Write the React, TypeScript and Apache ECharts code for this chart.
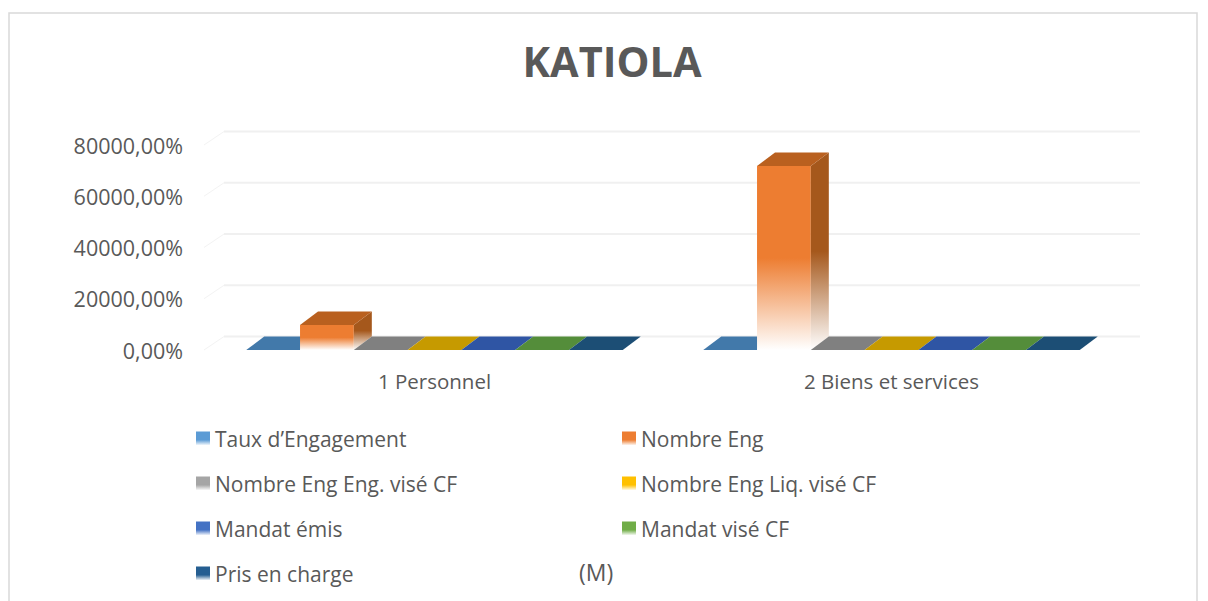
import React, { useEffect, useRef } from "react";
import * as echarts from "echarts";

const titleText = "KATIOLA";
const categories = ["1 Personnel", "2 Biens et services"];
const seriesNames = [
  "Taux d’Engagement",
  "Nombre Eng",
  "Nombre Eng Eng. visé CF",
  "Nombre Eng Liq. visé CF",
  "Mandat émis",
  "Mandat visé CF",
  "Pris en charge",
];
const tauxEngagement = [0, 0];
const nombreEng = [9800, 71800];
const nombreEngEngVise = [0, 0];
const nombreEngLiqVise = [0, 0];
const mandatEmis = [0, 0];
const mandatVise = [0, 0];
const prisEnCharge = [0, 0];
const seriesValues = [
  tauxEngagement,
  nombreEng,
  nombreEngEngVise,
  nombreEngLiqVise,
  mandatEmis,
  mandatVise,
  prisEnCharge,
];
const valueTicks = [0, 20000, 40000, 60000, 80000];
const unitNote = "(M)";

const legendColors = ["#5b9bd5", "#ed7d31", "#a5a5a5", "#ffc000", "#4472c4", "#70ad47", "#255e91"];
const topColors = ["#4279aa", "#b9601f", "#808080", "#c69a00", "#2f55a4", "#548d3a", "#1c4e75"];
const sideColors = ["#3a6a95", "#a5581c", "#6e6e6e", "#a88300", "#294a8f", "#487a32", "#174263"];

const FONT = '"Open Sans", sans-serif';
const TEXT = "#595959";
const DX = 18;
const DY = 13.5;
const BAR_FRACTION = 0.1177;

function fade(color: string, hold: number) {
  return new echarts.graphic.LinearGradient(0, 0, 0, 1, [
    { offset: 0, color },
    { offset: hold, color },
    { offset: 1, color: "#ffffff" },
  ]);
}

function wallItem(params: any, api: any) {
  const v = api.value(1);
  const band = api.size([1, 0])[0];
  const p = api.coord([0, v]);
  const left = p[0] - band / 2 - 2;
  const right = left + 2 * band + 2;
  return {
    type: "group",
    silent: true,
    children: [
      {
        type: "polyline",
        shape: { points: [[left + DX + 2, p[1] - DY], [right + DX + 2, p[1] - DY]] },
        style: { stroke: "#f0f0f0", lineWidth: 2, fill: "none" },
      },
      {
        type: "line",
        shape: { x1: left, y1: p[1], x2: left + DX + 2, y2: p[1] - DY },
        style: { stroke: "#f3f3f3", lineWidth: 1 },
      },
    ],
  };
}

function barItem(params: any, api: any) {
  const i = params.seriesIndex - 1;
  const band = api.size([1, 0])[0];
  const w = band * BAR_FRACTION;
  const base = api.coord([api.value(0), 0]);
  const top = api.coord([api.value(0), api.value(1)]);
  const x0 = base[0] + (i - 3.5) * w;
  const x1 = x0 + w;
  const yB = base[1];
  const yT = top[1];
  const children: any[] = [];
  if (yB - yT > 0.5) {
    children.push({
      type: "polygon",
      shape: { points: [[x0, yT], [x1, yT], [x1, yB], [x0, yB]] },
      style: { fill: fade(legendColors[i], 0.5) },
    });
    children.push({
      type: "polygon",
      shape: { points: [[x1, yT], [x1 + DX, yT - DY], [x1 + DX, yB - DY], [x1, yB]] },
      style: { fill: fade(sideColors[i], 0.5) },
    });
  }
  children.push({
    type: "polygon",
    shape: { points: [[x0, yT], [x1, yT], [x1 + DX, yT - DY], [x0 + DX, yT - DY]] },
    style: { fill: topColors[i] },
  });
  return { type: "group", children };
}

function legendBlock(names: string[], left: number) {
  return {
    show: true,
    orient: "vertical" as const,
    left,
    top: 428,
    height: 300,
    padding: 0,
    itemWidth: 14,
    itemHeight: 14,
    itemGap: 24,
    selectedMode: false,
    icon: "rect",
    textStyle: { fontFamily: FONT, fontSize: 21, color: TEXT, height: 20, lineHeight: 20 },
    data: names.map((name) => ({
      name,
      itemStyle: { color: fade(legendColors[seriesNames.indexOf(name)], 0.6) },
    })),
  };
}

export default function App() {
  const ref = useRef<HTMLDivElement>(null);
  useEffect(() => {
    document.body.style.margin = "0";
    const chart = echarts.init(ref.current!, undefined, { renderer: "svg" });
    chart.setOption({
      animation: false,
      backgroundColor: "#ffffff",
      title: {
        text: titleText,
        left: 607,
        top: 35,
        textAlign: "center",
        textStyle: { fontFamily: FONT, fontSize: 41.5, fontWeight: "bold", color: TEXT },
      },
      grid: { left: 206, top: 145, width: 914, height: 205 },
      xAxis: {
        type: "category",
        data: categories,
        axisLine: { show: false },
        axisTick: { show: false },
        axisLabel: { fontFamily: FONT, fontSize: 20.5, color: TEXT, margin: 20 },
      },
      yAxis: {
        type: "value",
        min: 0,
        max: 80000,
        interval: 20000,
        axisLine: { show: false },
        axisTick: { show: false },
        splitLine: { show: false },
        axisLabel: {
          fontFamily: FONT,
          fontSize: 21.5,
          color: TEXT,
          margin: 23,
          padding: [2, 0, 0, 0],
          formatter: (v: number) => `${v},00%`,
        },
      },
      legend: [
        legendBlock([seriesNames[0], seriesNames[2], seriesNames[4], seriesNames[6]], 196),
        legendBlock([seriesNames[1], seriesNames[3], seriesNames[5]], 622),
      ],
      graphic: [
        {
          type: "rect",
          z: -1,
          silent: true,
          shape: { x: 9, y: 13, width: 1188, height: 640 },
          style: { fill: "none", stroke: "#d9d9d9", lineWidth: 1.5 },
        },
        {
          type: "text",
          x: 579,
          y: 560,
          style: { text: unitNote, fontFamily: FONT, fontSize: 23, fill: TEXT },
        },
      ],
      series: [
        {
          type: "custom",
          name: "wall",
          renderItem: wallItem,
          clip: false,
          silent: true,
          encode: { x: 0, y: 1 },
          data: valueTicks.map((v) => [0, v]),
          z: 1,
        },
        ...seriesNames.map((name, s) => ({
          type: "custom" as const,
          name,
          renderItem: barItem,
          clip: false,
          encode: { x: 0, y: 1 },
          itemStyle: { color: legendColors[s] },
          data: seriesValues[s].map((v, c) => [c, v]),
          z: 2,
        })),
      ],
    });
    return () => chart.dispose();
  }, []);
  return <div ref={ref} style={{ width: 1208, height: 601 }} />;
}
